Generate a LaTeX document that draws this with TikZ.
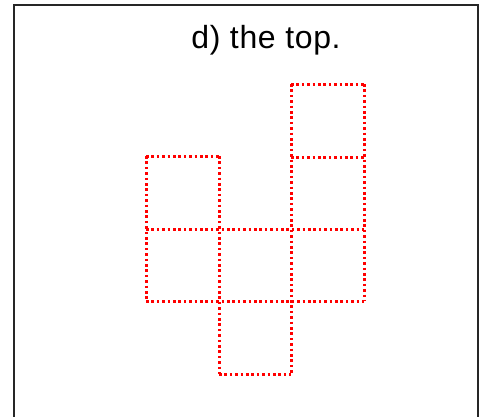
\documentclass[tikz,border=0pt]{standalone}
\usepackage{fontspec}
\setmainfont{Liberation Sans}
\begin{document}
\begin{tikzpicture}[x=1pt,y=-1pt,
  sq/.style={draw=red,line width=3pt,dash pattern=on 2.6pt off 2.8pt},
  frame/.style={draw=black!85,line width=1.3pt}]
\useasboundingbox (0,0) rectangle (484,416);
\draw[frame] (14,430) -- (14,5) -- (478,5) -- (478,430);
\node[anchor=base,inner sep=0pt,font=\fontsize{32}{36}\selectfont\addfontfeature{LetterSpace=2}] (title) at (266,48) {d) the top.};
% horizontal edges
\draw[sq] (291,84) -- (364,84);
\draw[sq] (146,156) -- (219,156);
\draw[sq] (291,157) -- (364,157);
\draw[sq] (146,229) -- (364,229);
\draw[sq] (146,301) -- (364,301);
\draw[sq] (219,374) -- (291,374);
% vertical edges
\draw[sq] (146,156) -- (146,301);
\draw[sq] (219,156) -- (219,374);
\draw[sq] (291,84) -- (291,374);
\draw[sq] (364,84) -- (364,301);
\end{tikzpicture}
\end{document}
